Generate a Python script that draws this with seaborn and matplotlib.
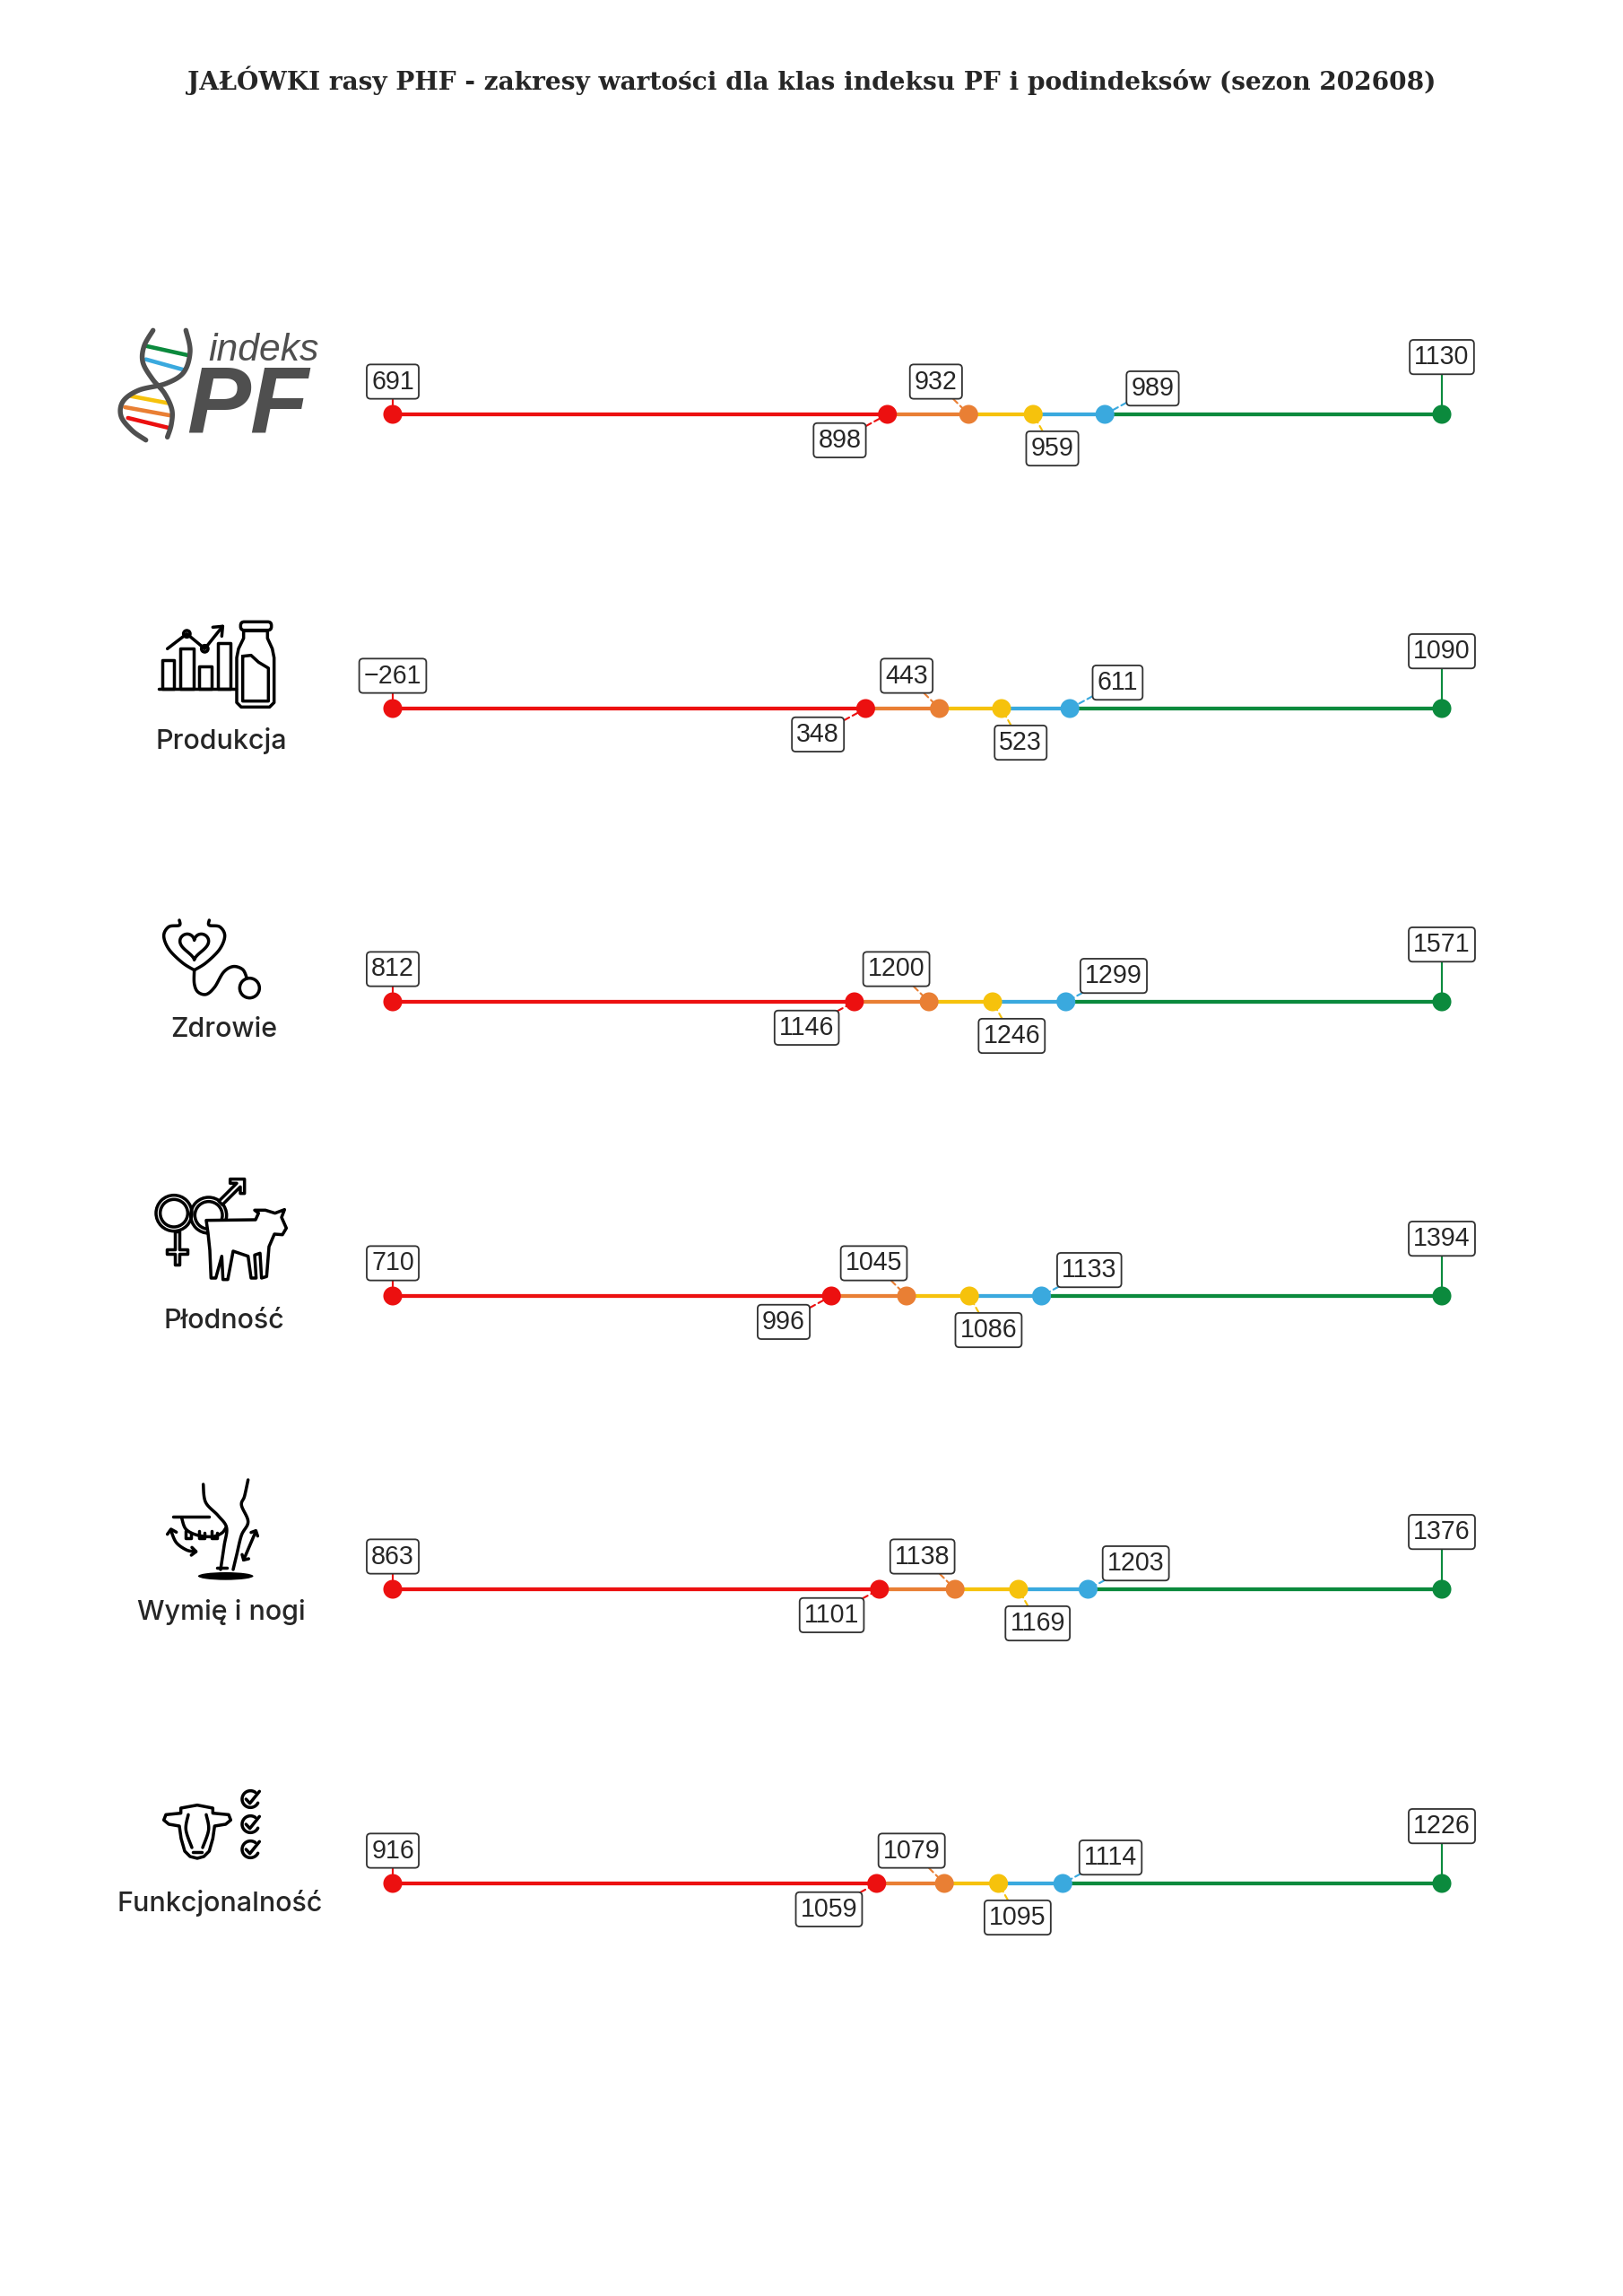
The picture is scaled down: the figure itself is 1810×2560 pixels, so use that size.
"""
Zakresy klas indeksu PF i podindeksów - wykres liniowy z etykietami
"""

import numpy as np
import matplotlib
matplotlib.use("Agg")
import matplotlib.pyplot as plt
from matplotlib.patches import Circle, Ellipse, FancyBboxPatch, Polygon
import seaborn as sns

# dane
title = "JAŁÓWKI rasy PHF - zakresy wartości dla klas indeksu PF i podindeksów (sezon 202608)"
row_names = ["PF", "Produkcja", "Zdrowie", "Płodność", "Wymię i nogi", "Funkcjonalność"]
pf_vals = [691, 898, 932, 959, 989, 1130]
produkcja_vals = [-261, 348, 443, 523, 611, 1090]
zdrowie_vals = [812, 1146, 1200, 1246, 1299, 1571]
plodnosc_vals = [710, 996, 1045, 1086, 1133, 1394]
wymie_vals = [863, 1101, 1138, 1169, 1203, 1376]
funkc_vals = [916, 1059, 1079, 1095, 1114, 1226]
all_vals = [pf_vals, produkcja_vals, zdrowie_vals, plodnosc_vals, wymie_vals, funkc_vals]

point_class = ["k1", "k1", "k2", "k3", "k4", "k5"]
palette = {"k1": "#ec1010", "k2": "#e97f34", "k3": "#f6c20c", "k4": "#3aa9de", "k5": "#0b8a3d"}
seg_colors = [palette[k] for k in ["k1", "k2", "k3", "k4", "k5"]]

# przesunięcia etykiet (punkty)
label_offsets = [(0, 12), (-17.5, -9.5), (-12, 12), (7, -12.5), (17.5, 9.5), (0, 21)]

W, H = 1810, 2560
DPI = 219
row_y = [462, 790, 1117, 1445, 1772, 2100]
x_left, x_right = 438, 1608

sns.set_theme(style="white")
plt.rcParams["font.family"] = ["Liberation Sans", "DejaVu Sans"]

fig = plt.figure(figsize=(W / DPI, H / DPI), dpi=DPI)
fig.patch.set_facecolor("white")

# warstwa pikselowa na ikony i napisy
ov = fig.add_axes([0, 0, 1, 1])
ov.set_xlim(0, W)
ov.set_ylim(H, 0)
ov.axis("off")

ov.text(W / 2, 90, title, ha="center", va="center", fontsize=9.2,
        fontweight="bold", family=["DejaVu Serif"])

LW_ICON = 1.15
LABEL_FONT = dict(ha="center", va="center", fontsize=10, family=["Inter", "DejaVu Sans"],
                  fontweight="medium")


def tr(pts, origin, k=1 / 3):
    ox, oy = origin
    return [(ox + x * k, oy + y * k) for x, y in pts]


def smooth(pts, n=12):
    # Catmull-Rom przez punkty ikony
    p = np.array(pts, dtype=float)
    p = np.vstack([p[0], p, p[-1]])
    out = []
    for i in range(1, len(p) - 2):
        p0, p1, p2, p3 = p[i - 1], p[i], p[i + 1], p[i + 2]
        for t in np.linspace(0, 1, n, endpoint=False):
            out.append(0.5 * ((2 * p1) + (-p0 + p2) * t + (2 * p0 - 5 * p1 + 4 * p2 - p3) * t ** 2
                              + (-p0 + 3 * p1 - 3 * p2 + p3) * t ** 3))
    out.append(p[-2])
    return [tuple(q) for q in out]


def pline(pts, origin, curve=False, **kw):
    if curve:
        pts = smooth(pts)
    p = tr(pts, origin)
    kw.setdefault("color", "black")
    kw.setdefault("lw", LW_ICON)
    ov.plot([a for a, _ in p], [b for _, b in p], solid_capstyle="round",
            solid_joinstyle="round", **kw)


def ppoly(pts, origin, fc="none", ec="black", lw=LW_ICON):
    ov.add_patch(Polygon(tr(pts, origin), closed=True, fc=fc, ec=ec, lw=lw,
                         joinstyle="round"))


def pcircle(c, r, origin, fc="none", ec="black", lw=LW_ICON):
    (cx, cy), = tr([c], origin)
    ov.add_patch(Circle((cx, cy), r / 3, fc=fc, ec=ec, lw=lw))


# --- logo indeks PF ---
o = (120, 360)
gray = "#4f4f4f"
rungs = [((132, 78), (268, 108), "#0b8a3d"), ((128, 122), (258, 158), "#3aa9de"),
         ((78, 245), (200, 268), "#f6c20c"), ((58, 282), (212, 310), "#e97f34"),
         ((68, 318), (208, 352), "#ec1010")]
for a, b, c in rungs:
    pline([a, b], o, color=c, lw=1.5)
pline([(262, 25), (276, 95), (255, 165), (195, 203), (105, 225), (52, 262), (45, 312),
       (82, 360), (128, 392)], o, curve=True, color=gray, lw=1.8)
pline([(152, 25), (122, 78), (118, 132), (150, 188), (190, 235), (215, 290), (213, 340),
       (200, 382)], o, curve=True, color=gray, lw=1.8)
ov.text(294, 391, "indeks", ha="center", va="center", fontsize=14,
        style="italic", color=gray)
ov.text(276, 455, "PF", ha="center", va="center", fontsize=35, fontweight="bold",
        style="italic", color=gray)

# --- Produkcja ---
o = (120, 670)
pline([(170, 295), (430, 295)], o)
for x0, top, x1 in [(183, 198, 222), (243, 160, 288), (306, 220, 348), (368, 142, 410)]:
    ppoly([(x0, 295), (x0, top), (x1, top), (x1, 295)], o)
pline([(200, 160), (265, 110), (325, 160), (385, 85)], o)
pcircle((265, 110), 11, o, fc="white")
pcircle((325, 160), 11, o, fc="white")
pline([(352, 88), (385, 85), (382, 118)], o)
ppoly([(455, 100), (455, 125), (438, 160), (432, 190), (432, 340), (447, 355),
       (542, 355), (557, 340), (557, 190), (551, 160), (535, 125), (535, 100)], o, fc="white")
pb = tr([(445, 70)], o)[0]
ov.add_patch(FancyBboxPatch(pb, 103 / 3, 28 / 3, boxstyle="round,pad=0,rounding_size=4",
                            fc="white", ec="black", lw=LW_ICON))
pline([(452, 185), (480, 182), (505, 205), (538, 225), (538, 335), (452, 335), (452, 185)],
      o)
ov.text(247, 826, "Produkcja", **LABEL_FONT)

# --- Zdrowie ---
o = (120, 1000)
pline([(240, 78), (240, 95), (205, 100), (188, 130), (205, 175), (250, 220), (290, 245)],
      o, curve=True)
pline([(340, 78), (340, 95), (375, 100), (392, 130), (375, 175), (330, 220), (290, 245)],
      o, curve=True)
pline([(290, 245), (290, 290), (302, 318), (330, 326), (358, 302), (388, 252),
       (420, 233), (452, 243), (466, 272)], o, curve=True)
pcircle((475, 305), 33, o)
t = np.linspace(0, 2 * np.pi, 80)
hx = 16 * np.sin(t) ** 3
hy = 13 * np.cos(t) - 5 * np.cos(2 * t) - 2 * np.cos(3 * t) - np.cos(4 * t)
ppoly(list(zip(290 + hx * 3.0, 160 - hy * 3.0)), o)
ov.text(250, 1148, "Zdrowie", **LABEL_FONT)

# --- Płodność ---
o = (120, 1310)
for c in [(222, 128), (338, 135)]:
    pcircle(c, 60, o)
    pcircle(c, 46, o)
cross = [(226, 188), (240, 188), (240, 250), (268, 250), (268, 264), (240, 264), (240, 300),
         (226, 300), (226, 264), (198, 264), (198, 250), (226, 250)]
ppoly(cross, o, fc="white")
arrow = [(372, 88), (432, 28), (410, 28), (410, 14), (458, 14), (458, 62), (444, 62),
         (444, 40), (384, 100)]
ppoly(arrow, o, fc="white")
calf = [(330, 152), (495, 150), (505, 128), (492, 118), (528, 118), (560, 128), (592, 116),
        (582, 142), (598, 178), (585, 200), (558, 198), (540, 240), (532, 340), (515, 345),
        (510, 262), (492, 268), (497, 345), (480, 345), (470, 272), (420, 255), (402, 350),
        (386, 350), (382, 272), (362, 345), (346, 345), (342, 252), (336, 195)]
ppoly(calf, o, fc="white")
ov.text(250, 1473, "Płodność", **LABEL_FONT)

# --- Wymię i nogi ---
o = (120, 1650)
pline([(320, 15), (328, 75), (370, 120), (398, 160), (390, 220), (378, 300)], o, curve=True)
pline([(470, 0), (458, 55), (448, 85), (470, 140), (448, 185), (432, 250), (420, 300)], o,
      curve=True)
pline([(220, 122), (340, 122)], o)
pline([(248, 128), (262, 165), (300, 185), (350, 190), (382, 178), (396, 160)], o, curve=True)
for tx in [262, 305, 348]:
    pline([(tx, 172), (tx, 195), (tx + 18, 195), (tx + 18, 178)], o)
pline([(212, 170), (230, 210), (265, 235), (295, 240)], o, curve=True)
pline([(200, 182), (212, 165), (230, 175)], o)
pline([(282, 226), (296, 240), (280, 252)], o)
pline([(496, 172), (455, 268)], o)
pline([(480, 176), (496, 170), (502, 188)], o)
pline([(450, 250), (455, 268), (472, 264)], o)
pline([(365, 295), (400, 295)], o)
(ex, ey), = tr([(395, 322)], o)
ov.add_patch(Ellipse((ex, ey), 185 / 3, 26 / 3, fc="black", ec="none"))
ov.text(247, 1797, "Wymię i nogi", **LABEL_FONT)

# --- Funkcjonalność ---
o = (120, 1990)
head = [(245, 78), (300, 68), (352, 78), (352, 95), (405, 100), (412, 118), (395, 132),
        (358, 138), (352, 180), (340, 222), (322, 240), (300, 246), (276, 240), (258, 222),
        (246, 180), (240, 138), (205, 132), (188, 118), (195, 100), (245, 95)]
ppoly(head, o)
pline([(270, 100), (262, 150), (282, 210)], o, curve=True)
pline([(330, 100), (338, 150), (318, 210)], o, curve=True)
pline([(285, 225), (315, 225)], o)
for cy in [48, 132, 216]:
    a = np.linspace(0.3 * np.pi, 1.85 * np.pi, 40)
    pline(list(zip(478 + 28 * np.cos(a), cy - 28 * np.sin(a))), o)
    pline([(463, cy), (476, cy + 14), (508, cy - 26)], o)
ov.text(245, 2122, "Funkcjonalność", **LABEL_FONT)

# --- wiersze z zakresami ---
row_h = 240
for vals, yc in zip(all_vals, row_y):
    ax = fig.add_axes([x_left / W, 1 - (yc + row_h / 2) / H, (x_right - x_left) / W, row_h / H])
    ax.set_xlim(vals[0], vals[-1])
    ax.set_ylim(-1, 1)
    ax.axis("off")
    for i, c in enumerate(seg_colors):
        sns.lineplot(x=[vals[i], vals[i + 1]], y=[0, 0], color=c, lw=1.4, ax=ax,
                     legend=False, zorder=2)
    sns.scatterplot(x=vals, y=[0] * len(vals), hue=point_class, palette=palette, s=48,
                    edgecolor="none", ax=ax, legend=False, zorder=3, clip_on=False)
    for i, v in enumerate(vals):
        c = palette[point_class[i]]
        txt = f"{v}".replace("-", "\u2212")
        ls = "-" if i == len(vals) - 1 else (0, (3, 2))
        ax.annotate(txt, xy=(v, 0), xytext=label_offsets[i], textcoords="offset points",
                    ha="center", va="center", fontsize=9.4,
                    bbox=dict(boxstyle="round,pad=0.18,rounding_size=0.15", fc="white",
                              ec="#333333", lw=0.6),
                    arrowprops=dict(arrowstyle="-", color=c, lw=0.7, ls=ls,
                                    shrinkA=0, shrinkB=3),
                    zorder=4, annotation_clip=False)

fig.savefig("out.png", dpi=DPI, facecolor="white")
plt.close(fig)
